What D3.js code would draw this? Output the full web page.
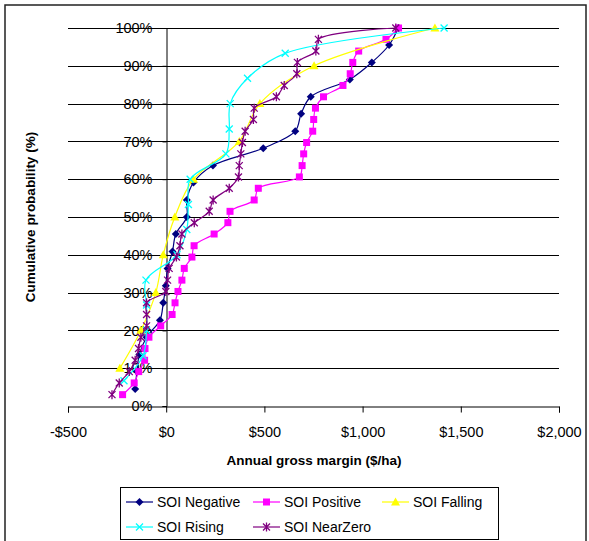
<!DOCTYPE html>
<html>
<head>
<meta charset="utf-8">
<script src="https://cdn.jsdelivr.net/npm/d3@7"></script>
<style>
  body { margin: 0; background: #fff; }
  text { font-family: "Liberation Sans", Arial, sans-serif; }
</style>
</head>
<body>
<div id="chart"></div>
<script>
// chart size
const width = 589;
const height = 541;

// x = annual gross margin ($/ha), p = cumulative probability (%)
const negX = [-158, -149, -137, -100, -32, -15, -2, 7, 32, 49, 105, 105, 139, 238, 494, 657, 687, 736, 935, 1047, 1135, 1181];
const negP = [4.5, 9.1, 13.6, 18.2, 22.7, 27.3, 31.8, 36.4, 40.9, 45.5, 50, 54.5, 59.1, 63.6, 68.2, 72.7, 77.3, 81.8, 86.4, 90.9, 95.5, 100];

const posX = [-222, -163, -140, -110, -108, -88, -28, 30, 45, 60, 80, 92, 131, 142, 244, 314, 325, 448, 469, 678, 692, 700, 715, 746, 751, 760, 801, 900, 937, 950, 980, 1119, 1183];
const posP = [3.0, 6.1, 9.1, 12.1, 15.2, 18.2, 21.2, 24.2, 27.3, 30.3, 33.3, 36.4, 39.4, 42.4, 45.5, 48.5, 51.5, 54.5, 57.6, 60.6, 63.6, 66.7, 69.7, 72.7, 75.8, 78.8, 81.8, 84.8, 87.9, 90.9, 93.9, 97.0, 100];

const fallX = [-236, -129, -53, -15, 44, 139, 372, 477, 753, 1368];
const fallP = [10, 20, 30, 40, 50, 60, 70, 80, 90, 100];

const riseX = [-215, -118, -100, -100, -103, 55, 105, 113, 122, 304, 321, 326, 414, 606, 1415];
const riseP = [6.7, 13.3, 20, 26.7, 33.3, 40, 46.7, 53.3, 60, 66.7, 73.3, 80, 86.7, 93.3, 100];

const nearX = [-276, -239, -188, -158, -141, -129, -100, -100, -100, -2, 7, 15, 52, 70, 80, 143, 219, 239, 321, 368, 372, 380, 388, 402, 444, 448, 561, 601, 665, 668, 762, 775, 1169];
const nearP = [3.0, 6.1, 9.1, 12.1, 15.2, 18.2, 21.2, 24.2, 27.3, 30.3, 33.3, 36.4, 39.4, 42.4, 45.5, 48.5, 51.5, 54.5, 57.6, 60.6, 63.6, 66.7, 69.7, 72.7, 75.8, 78.8, 81.8, 84.8, 87.9, 90.9, 93.9, 97.0, 100];

const xTicks = [-500, 0, 500, 1000, 1500, 2000];
const yTicks = [0, 10, 20, 30, 40, 50, 60, 70, 80, 90, 100];

const series = [
  { name: "SOI Negative", xs: negX, ps: negP, color: "#000080", marker: "diamond" },
  { name: "SOI Positive", xs: posX, ps: posP, color: "#FF00FF", marker: "square" },
  { name: "SOI Falling", xs: fallX, ps: fallP, color: "#FFFF00", marker: "triangle" },
  { name: "SOI Rising", xs: riseX, ps: riseP, color: "#00FFFF", marker: "cross" },
  { name: "SOI NearZero", xs: nearX, ps: nearP, color: "#800080", marker: "star" }
];

const x = d3.scaleLinear().domain([-500, 2000]).range([68, 559]);
const y = d3.scaleLinear().domain([0, 100]).range([406, 28]);

const svg = d3.select("#chart").append("svg")
  .attr("width", width)
  .attr("height", height);

// outer chart frame
svg.append("rect")
  .attr("x", 5).attr("y", 5)
  .attr("width", 581).attr("height", 540)
  .attr("fill", "none")
  .attr("stroke", "#222")
  .attr("stroke-width", 1.5);

// horizontal gridlines
svg.append("g")
  .selectAll("line")
  .data(yTicks.slice(1))
  .enter().append("line")
  .attr("x1", x(-500)).attr("x2", x(2000))
  .attr("y1", d => Math.round(y(d)) + 0.5)
  .attr("y2", d => Math.round(y(d)) + 0.5)
  .attr("stroke", "#000")
  .attr("stroke-width", 1);

// x axis at 0%
const xAxis = d3.axisBottom(x)
  .tickValues(xTicks)
  .tickSize(6)
  .tickFormat(d => (d < 0 ? "-$" : "$") + d3.format(",")(Math.abs(d)));

const gx = svg.append("g")
  .attr("transform", `translate(0,${Math.round(y(0)) + 0.5})`)
  .call(xAxis);
gx.select(".domain").attr("stroke", "#000");
gx.selectAll(".tick line").attr("stroke", "#000");
gx.selectAll(".tick text")
  .attr("dy", null)
  .attr("y", 30)
  .attr("font-size", 14.5)
  .attr("fill", "#000");

// y axis crossing at $0
const yAxis = d3.axisLeft(y)
  .tickValues(yTicks)
  .tickSize(4)
  .tickFormat(d => d + "%");

const gy = svg.append("g")
  .attr("transform", `translate(${Math.round(x(0)) + 0.5},0)`)
  .call(yAxis);
gy.select(".domain").attr("stroke", "#000");
gy.selectAll(".tick line").attr("stroke", "#000");
gy.selectAll(".tick text")
  .attr("x", -14)
  .attr("font-size", 14.5)
  .attr("fill", "#000");

// axis titles
svg.append("text")
  .attr("x", 314).attr("y", 465)
  .attr("text-anchor", "middle")
  .attr("font-size", 13.5)
  .attr("font-weight", "bold")
  .text("Annual gross margin ($/ha)");

svg.append("text")
  .attr("transform", "translate(35,217) rotate(-90)")
  .attr("text-anchor", "middle")
  .attr("font-size", 13.5)
  .attr("font-weight", "bold")
  .text("Cumulative probability (%)");

// marker drawing
function drawMarker(g, type, color) {
  if (type === "diamond") {
    g.append("path").attr("d", "M0,-4L4,0L0,4L-4,0Z").attr("fill", color);
  } else if (type === "square") {
    g.append("rect").attr("x", -3.5).attr("y", -3.5).attr("width", 7).attr("height", 7).attr("fill", color);
  } else if (type === "triangle") {
    g.append("path").attr("d", "M0,-4.5L4.5,3.5L-4.5,3.5Z").attr("fill", color);
  } else if (type === "cross") {
    g.append("path").attr("d", "M-3.5,-3.5L3.5,3.5M-3.5,3.5L3.5,-3.5")
      .attr("stroke", color).attr("stroke-width", 1.3).attr("fill", "none");
  } else if (type === "star") {
    g.append("path").attr("d", "M-3.5,-3.5L3.5,3.5M-3.5,3.5L3.5,-3.5M0,-4.5L0,4.5")
      .attr("stroke", color).attr("stroke-width", 1.3).attr("fill", "none");
  }
}

const line = d3.line()
  .x(d => x(d[0]))
  .y(d => y(d[1]))
  .curve(d3.curveCatmullRom.alpha(0.5));

const plot = svg.append("g");

series.forEach(function (s) {
  const pts = s.xs.map((v, i) => [v, s.ps[i]]);
  plot.append("path")
    .datum(pts)
    .attr("d", line)
    .attr("fill", "none")
    .attr("stroke", s.color)
    .attr("stroke-width", 1.2);

  plot.append("g")
    .selectAll("g")
    .data(pts)
    .enter().append("g")
    .attr("transform", d => `translate(${x(d[0])},${y(d[1])})`)
    .each(function () {
      drawMarker(d3.select(this), s.marker, s.color);
    });
});

// legend
const legend = svg.append("g");
legend.append("rect")
  .attr("x", 120.5).attr("y", 487.5)
  .attr("width", 378).attr("height", 52)
  .attr("fill", "#fff")
  .attr("stroke", "#000")
  .attr("stroke-width", 1);

const legendPos = [
  [126, 502], [253, 502], [382, 502],
  [126, 527], [253, 527]
];

series.forEach(function (s, i) {
  const p = legendPos[i];
  const item = legend.append("g").attr("transform", `translate(${p[0]},${p[1]})`);
  item.append("line")
    .attr("x1", 0).attr("x2", 27)
    .attr("stroke", s.color)
    .attr("stroke-width", 1.2);
  drawMarker(item.append("g").attr("transform", "translate(13.5,0)"), s.marker, s.color);
  item.append("text")
    .attr("x", 31).attr("y", 5)
    .attr("font-size", 14)
    .text(s.name);
});
</script>
</body>
</html>
